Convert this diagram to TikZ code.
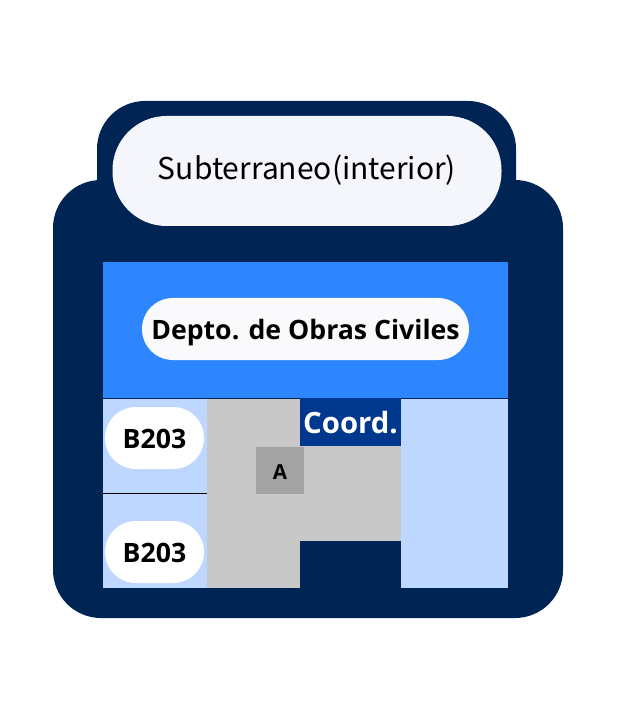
\documentclass[tikz,border=0pt]{standalone}
\usepackage{fontspec}
\setmainfont{Open Sans}
\newfontfamily\titlefont{Noto Sans CJK SC}
\definecolor{navycolor}{RGB}{0,36,84}
\definecolor{bluecolor}{RGB}{46,134,255}
\definecolor{paleblue}{RGB}{189,215,255}
\definecolor{coordcolor}{RGB}{0,56,141}
\definecolor{pillcolor}{RGB}{244,246,251}
\definecolor{hallcolor}{RGB}{200,200,200}
\definecolor{stairscolor}{RGB}{163,163,163}
\tikzset{
    pill/.style={fill=white, rounded corners=31*0.75pt, inner sep=0pt, minimum height=62*0.75pt, text height=15pt, text depth=0pt, font=\bfseries\fontsize{20}{22}\selectfont},
}

\begin{document}
\begin{tikzpicture}[x=0.75pt, y=-0.75pt]
        \useasboundingbox (0,0) rectangle (632,712);
        % building
        \fill[navycolor, rounded corners=48*0.75pt] (97,101) rectangle (516,260);
        \fill[navycolor, rounded corners=48*0.75pt] (53,180) rectangle (563,618);
        % rooms
        \fill[bluecolor] (103,262) rectangle (508,398);
        \fill[paleblue] (103,398) rectangle (207,588);
        \fill[paleblue] (401,398) rectangle (508,588);
        \fill[hallcolor] (207,398) rectangle (300,588);
        \fill[hallcolor] (300,446) rectangle (401,541);
        \draw[black, thin] (103,493) -- (207,493);
        \draw[navycolor, thin] (103,398) -- (508,398);
        % labels
        \node[fill=pillcolor, rounded corners=54*0.75pt, minimum width=389*0.75pt, minimum height=110*0.75pt, inner sep=0pt, text height=13.5pt, text depth=0pt, font=\titlefont\fontsize{22.5}{26}\selectfont] (title) at (307,171) {Subterraneo(interior)};
        \node[pill, fill=pillcolor!50!white, minimum width=327*0.75pt] (depto) at (305.5,329) {Depto. de Obras Civiles};
        \node[pill, minimum width=99*0.75pt] (upper) at (154.5,438) {B203};
        \node[pill, minimum width=99*0.75pt] (lower) at (154.5,552) {B203};
        \node[fill=coordcolor, text=white, minimum width=101*0.75pt, minimum height=48*0.75pt, inner sep=0pt, text height=17pt, text depth=0pt, font=\bfseries\fontsize{22}{24}\selectfont] (coord) at (350.5,422) {Coord.};
        \node[fill=stairscolor, minimum width=48*0.75pt, minimum height=47*0.75pt, inner sep=0pt, text height=13.5pt, text depth=0pt, font=\bfseries\fontsize{15.5}{17}\selectfont] (stairs) at (280,470) {A};
    \end{tikzpicture}
\end{document}
